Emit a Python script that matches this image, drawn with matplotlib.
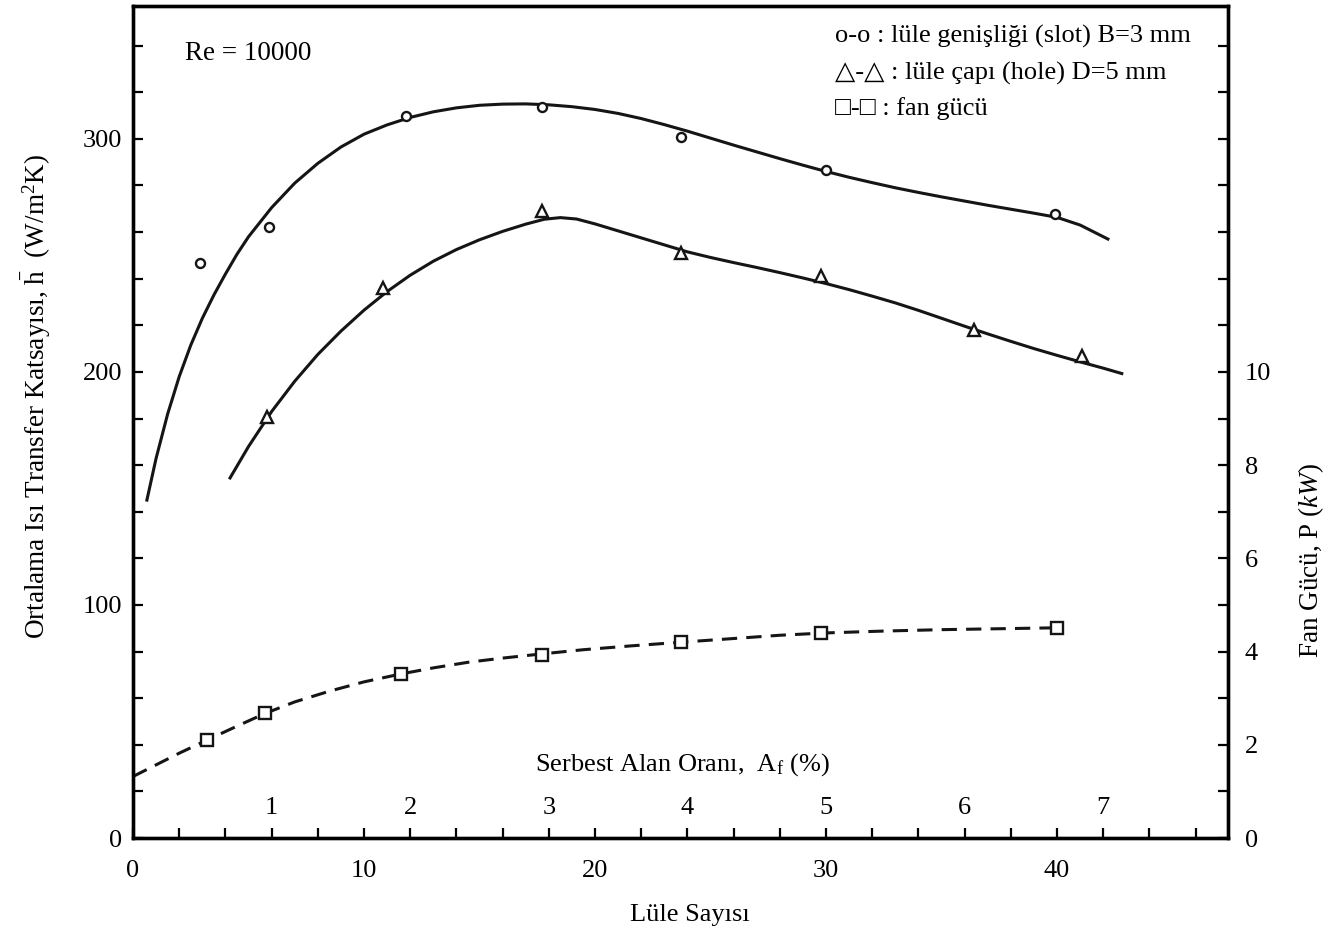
import matplotlib
matplotlib.use("Agg")
import matplotlib.pyplot as plt
import numpy as np

plt.rcParams['font.family'] = ['Liberation Serif', 'DejaVu Serif']
plt.rcParams['mathtext.fontset'] = 'custom'
plt.rcParams['mathtext.rm'] = 'Liberation Serif'
plt.rcParams['mathtext.it'] = 'Liberation Serif:italic'
plt.rcParams['font.size'] = 19

# measured points (nozzle count vs h, and fan power)
slot_n = [2.9, 5.9, 11.8, 17.7, 23.7, 30.0, 39.9]
slot_h = [246.7, 262, 310, 313.8, 301, 286.7, 267.8]
hole_n = [5.8, 10.8, 17.7, 23.7, 29.8, 36.4, 41.1]
hole_h = [180.8, 235.9, 269, 251, 241, 217.8, 207]
fan_n = [3.2, 5.7, 11.6, 17.7, 23.7, 29.8, 40.0]
fan_p = [2.10, 2.68, 3.52, 3.93, 4.21, 4.40, 4.51]

# fitted curves
slot_fit_n = [0.6, 1.0, 1.5, 2.0, 2.5, 3.0, 3.5, 4.0, 4.5, 5.0, 6.0, 7.0, 8.0, 9.0,
              10.0, 11.0, 12.0, 13.0, 14.0, 15.0, 16.0, 17.0, 18.0, 19.0, 20.0,
              21.0, 22.0, 23.0, 24.0, 25.0, 26.0, 27.0, 28.0, 29.0, 30.0, 31.0,
              32.0, 33.0, 34.0, 35.0, 36.0, 37.0, 38.0, 39.0, 40.0, 41.0, 42.2]
slot_fit_h = [145, 163, 182, 198, 211.5, 223, 233, 242, 250.5, 258, 270.5, 281, 289.5, 296.5,
              302, 306, 309.2, 311.6, 313.3, 314.4, 314.9, 315.0, 314.6, 313.8, 312.6,
              310.9, 308.7, 306.1, 303.3, 300.3, 297.3, 294.4, 291.5, 288.7, 286.0, 283.5,
              281.2, 279.0, 277.0, 275.1, 273.3, 271.5, 269.8, 268.1, 266.3, 263.0, 257.0]
hole_fit_n = [4.2, 5.0, 6.0, 7.0, 8.0, 9.0, 10.0, 11.0, 12.0, 13.0, 14.0, 15.0, 16.0,
              17.0, 17.8, 18.5, 19.2, 20.0, 21.0, 22.0, 23.0, 24.0, 25.0, 26.0, 27.0,
              28.0, 29.0, 30.0, 31.0, 32.0, 33.0, 34.0, 35.0, 36.0, 37.0, 38.0, 39.0,
              40.0, 41.0, 42.0, 42.8]
hole_fit_h = [154.5, 168, 183, 196, 207.5, 217.5, 226.5, 234.5, 241.5, 247.5, 252.5, 256.7, 260.3,
              263.4, 265.5, 266.2, 265.6, 263.5, 260.5, 257.5, 254.5, 251.5, 249.1, 246.9, 244.8,
              242.6, 240.3, 237.9, 235.3, 232.5, 229.6, 226.4, 223.0, 219.6, 216.3, 213.1, 210.0,
              207.1, 204.3, 201.6, 199.3]
fan_fit_n = [0, 1.0, 2.0, 3.2, 4.5, 5.7, 7.0, 8.5, 10.0, 11.6, 13.0, 14.5, 16.0, 17.7,
             19.5, 21.5, 23.7, 26.0, 28.0, 30.0, 32.5, 35.0, 37.5, 40.0]
fan_fit_p = [1.32, 1.57, 1.82, 2.10, 2.40, 2.67, 2.92, 3.15, 3.35, 3.52, 3.65, 3.77, 3.86, 3.95,
             4.04, 4.12, 4.20, 4.28, 4.35, 4.40, 4.44, 4.47, 4.49, 4.51]

# free area ratio scale (Af %) and matching nozzle counts
af_values = [1, 2, 3, 4, 5, 6, 7]
af_nozzles = [6, 12, 18, 24, 30, 36, 42]

legend_lines = ["o-o : lüle genişliği (slot) B=3 mm",
                "\u25b3-\u25b3 : lüle çapı (hole) D=5 mm",
                "\u25a1-\u25a1 : fan gücü"]

fig = plt.figure(figsize=(13.37, 9.38), dpi=100)
ax = fig.add_axes([0.0995, 0.1066, 0.819, 0.887])
ax2 = ax.twinx()

lw = 2.2
ink = '#151515'
ax.plot(slot_fit_n, slot_fit_h, color=ink, lw=lw, zorder=2)
ax.plot(hole_fit_n, hole_fit_h, color=ink, lw=lw, zorder=2)
ax.plot(slot_n, slot_h, 'o', ms=6.5, mfc='white', mec=ink, mew=1.7, zorder=3)
ax.plot(hole_n, hole_h, '^', ms=9, mfc='white', mec=ink, mew=1.7, zorder=3)

ax2.plot(fan_fit_n, fan_fit_p, color=ink, lw=lw, dashes=(5, 3), zorder=2)
ax2.plot(fan_n, fan_p, 's', ms=8, mfc='white', mec=ink, mew=1.7, zorder=3)

ax.set_xlim(0, 47.4)
ax.set_ylim(0, 357)
ax2.set_ylim(0, 17.85)

xt = np.arange(0, 47, 2)
ax.set_xticks(xt)
ax.set_xticklabels([str(v) if v % 10 == 0 else '' for v in xt])
yt = np.arange(0, 357, 20)
ax.set_yticks(yt)
ax.set_yticklabels([str(v) if v % 100 == 0 else '' for v in yt])
rt = np.arange(0, 18, 1)
ax2.set_yticks(rt)
ax2.set_yticklabels([str(v) if (v % 2 == 0 and v <= 10) else '' for v in rt])

ax.tick_params(axis='x', direction='in', length=7, width=1.6, pad=16, labelsize=19)
ax.tick_params(axis='y', direction='in', length=7, width=1.6, pad=8, labelsize=19)
ax2.tick_params(axis='y', direction='in', length=7, width=1.6, pad=12, labelsize=19)

for a in (ax, ax2):
    for s in a.spines.values():
        s.set_linewidth(2.4)

# free area ratio labels drawn inside the axes
trans = ax.get_xaxis_transform()
for n, v in zip(af_nozzles, af_values):
    ax.text(n, 0.036, str(v), transform=trans, ha='center', va='center', fontsize=19)
ax.text(23.8, 0.088, r'Serbest Alan Oranı,  A$_\mathrm{f}$ (%)', transform=trans,
        ha='center', va='center', fontsize=19)

ax.text(0.0475, 0.943, 'Re = 10000', transform=ax.transAxes, ha='left', va='center', fontsize=19.5)
for txt, yy in zip(legend_lines, [0.964, 0.919, 0.877]):
    ax.text(0.641, yy, txt, transform=ax.transAxes, ha='left', va='center', fontsize=19)

fig.text(0.027, 0.577, r'Ortalama Isı Transfer Katsayısı, $\bar{\mathrm{h}}$  (W/m$^2$K)',
         rotation=90, ha='center', va='center', fontsize=19.5)
fig.text(0.981, 0.403, r'Fan Gücü, P ($\mathit{kW}$)', rotation=90,
         ha='center', va='center', fontsize=19.5)
fig.text(0.516, 0.024, 'Lüle Sayısı', ha='center', va='center', fontsize=19)

fig.savefig('out.png', dpi=100)
